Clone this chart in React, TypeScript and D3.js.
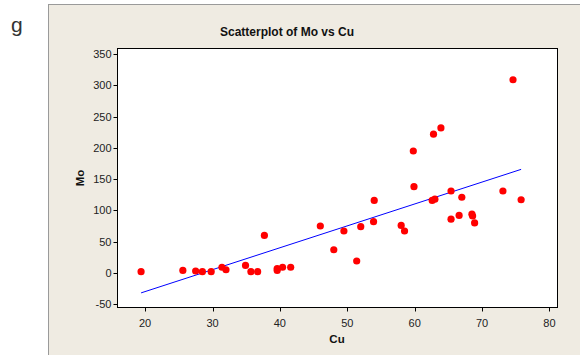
import React from 'react';
import * as d3 from 'd3';

// Cu (x) and Mo (y) values
const cuValues = [
  19.4, 25.6, 27.5, 28.5, 29.8, 31.4, 32.0, 34.9, 35.7, 36.7,
  37.7, 39.6, 39.6, 40.4, 41.6, 46.0, 48.0, 49.5, 51.4, 52.0,
  53.9, 54.0, 58.0, 58.5, 59.8, 59.9, 62.6, 63.0, 62.8, 63.9,
  65.4, 65.4, 66.6, 67.0, 68.5, 68.6, 68.9, 73.1, 74.6, 75.8,
];
const moValues = [
  2, 4, 3, 2, 2, 9, 5, 12, 2, 2,
  60, 7, 4, 9, 9, 75, 37, 67, 19, 74,
  82, 116, 76, 67, 195, 138, 116, 118, 222, 232,
  131, 86, 92, 121, 94, 91, 80, 131, 309, 117,
];

// fitted line Mo = intercept + slope * Cu
const fitIntercept = -100.0;
const fitSlope = 3.504;

const xTicks = [20, 30, 40, 50, 60, 70, 80];
const yTicks = [-50, 0, 50, 100, 150, 200, 250, 300, 350];

const W = 580;
const H = 355;
const plot = { left: 117.5, right: 557.5, top: 48.5, bottom: 307.5 };

const App: React.FC = () => {
  const x = d3.scaleLinear().domain([15.9, 81.2]).range([plot.left, plot.right]);
  const y = d3.scaleLinear().domain([-55.4, 359]).range([plot.bottom, plot.top]);

  const points = cuValues.map((c, i) => ({ cu: c, mo: moValues[i] }));
  const [xMin, xMax] = d3.extent(cuValues) as [number, number];
  const fitLine = d3.line<number>()
    .x(d => x(d))
    .y(d => y(fitIntercept + fitSlope * d));

  const font = '"Liberation Sans", Arial, sans-serif';

  return (
    <svg width={W} height={H} style={{ position: 'absolute', left: 0, top: 0 }}>
      <rect x={0} y={0} width={W} height={H} fill="#ffffff" />
      <text x={11} y={32} fontFamily={font} fontSize={21} fill="#333">g</text>

      {/* outer panel */}
      <rect x={48.5} y={4.5} width={W} height={H} fill="#efebe2" stroke="#9a9a9a" strokeWidth={1} />

      <text x={287} y={36} textAnchor="middle"
        fontFamily={font} fontSize={12} fontWeight="bold" fill="#111">
        Scatterplot of Mo vs Cu
      </text>

      <rect x={plot.left} y={plot.top} width={plot.right - plot.left} height={plot.bottom - plot.top}
        fill="#ffffff" stroke="#000" strokeWidth={1} />

      {/* y axis */}
      {yTicks.map(t => (
        <g key={'y' + t}>
          <line x1={plot.left - 4} x2={plot.left} y1={Math.round(y(t)) + 0.5} y2={Math.round(y(t)) + 0.5} stroke="#000" />
          <text x={plot.left - 6} y={y(t) + 4} textAnchor="end" fontFamily={font} fontSize={11} fill="#222">{t}</text>
        </g>
      ))}
      {/* x axis */}
      {xTicks.map(t => (
        <g key={'x' + t}>
          <line x1={Math.round(x(t)) + 0.5} x2={Math.round(x(t)) + 0.5} y1={plot.bottom} y2={plot.bottom + 4} stroke="#000" />
          <text x={x(t)} y={327} textAnchor="middle" fontFamily={font} fontSize={11} fill="#222">{t}</text>
        </g>
      ))}

      <text x={337} y={343} textAnchor="middle" fontFamily={font} fontSize={11.5} fontWeight="bold" fill="#111">Cu</text>
      <text transform="translate(84,178) rotate(-90)" textAnchor="middle" fontFamily={font} fontSize={11.5} fontWeight="bold" fill="#111">Mo</text>

      <path d={fitLine([xMin, xMax]) ?? ''} fill="none" stroke="#0000ff" strokeWidth={1} />

      {points.map((p, i) => (
        <circle key={i} cx={x(p.cu)} cy={y(p.mo)} r={3.6} fill="#ff0000" />
      ))}
    </svg>
  );
};

export default App;
